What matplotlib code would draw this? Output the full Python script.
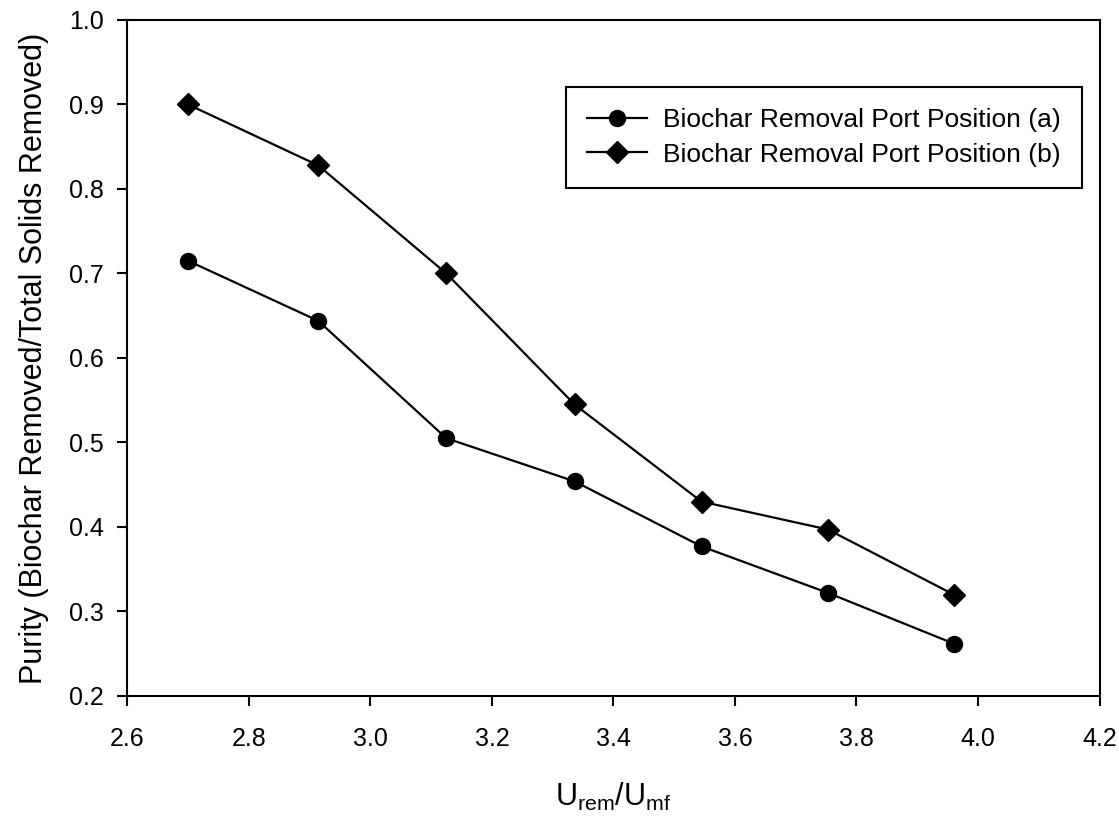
import numpy as np
import matplotlib
matplotlib.use("Agg")
import matplotlib.pyplot as plt

plt.rcParams['font.family'] = ['Liberation Sans', 'DejaVu Sans']
plt.rcParams['mathtext.default'] = 'regular'

# values
u_ratio = [2.70, 2.914, 3.125, 3.336, 3.545, 3.753, 3.960]
purity_a = [0.715, 0.644, 0.505, 0.454, 0.377, 0.322, 0.262]
purity_b = [0.900, 0.828, 0.700, 0.545, 0.430, 0.397, 0.320]
labels = ['Biochar Removal Port Position (a)', 'Biochar Removal Port Position (b)']
x_ticks = np.arange(2.6, 4.21, 0.2)
y_ticks = np.arange(0.2, 1.01, 0.1)

fig = plt.figure(figsize=(11.19, 8.16), dpi=100)
ax = fig.add_axes([0.1138, 0.1471, 0.8688, 0.8284])

ax.plot(u_ratio, purity_a, color='black', lw=1.6, marker='o', ms=11.5, label=labels[0])
ax.plot(u_ratio, purity_b, color='black', lw=1.6, marker='D', ms=11, label=labels[1])

ax.set_xlim(2.6, 4.2)
ax.set_ylim(0.2, 1.0)
ax.set_xticks(x_ticks)
ax.set_xticklabels([f'{v:.1f}' for v in x_ticks])
ax.set_yticks(y_ticks)
ax.set_yticklabels([f'{v:.1f}' for v in y_ticks])
ax.tick_params(axis='both', direction='out', length=7, width=1.5, labelsize=18,
               top=False, right=False)
ax.tick_params(axis='x', pad=15)
ax.tick_params(axis='y', pad=10)
for s in ax.spines.values():
    s.set_linewidth(1.5)

ax.set_xlabel('U$_{rem}$/U$_{mf}$', fontsize=22, labelpad=22)
ax.set_ylabel('Purity (Biochar Removed/Total Solids Removed)', fontsize=22, labelpad=14)

leg = ax.legend(loc='upper right', bbox_to_anchor=(0.982, 0.901), fontsize=19,
                frameon=True, fancybox=False, edgecolor='black', framealpha=1,
                handlelength=2.3, borderpad=0.8, labelspacing=0.4, handletextpad=0.6,
                borderaxespad=0)
leg.get_frame().set_linewidth(1.5)

fig.savefig('out.png', dpi=100)
